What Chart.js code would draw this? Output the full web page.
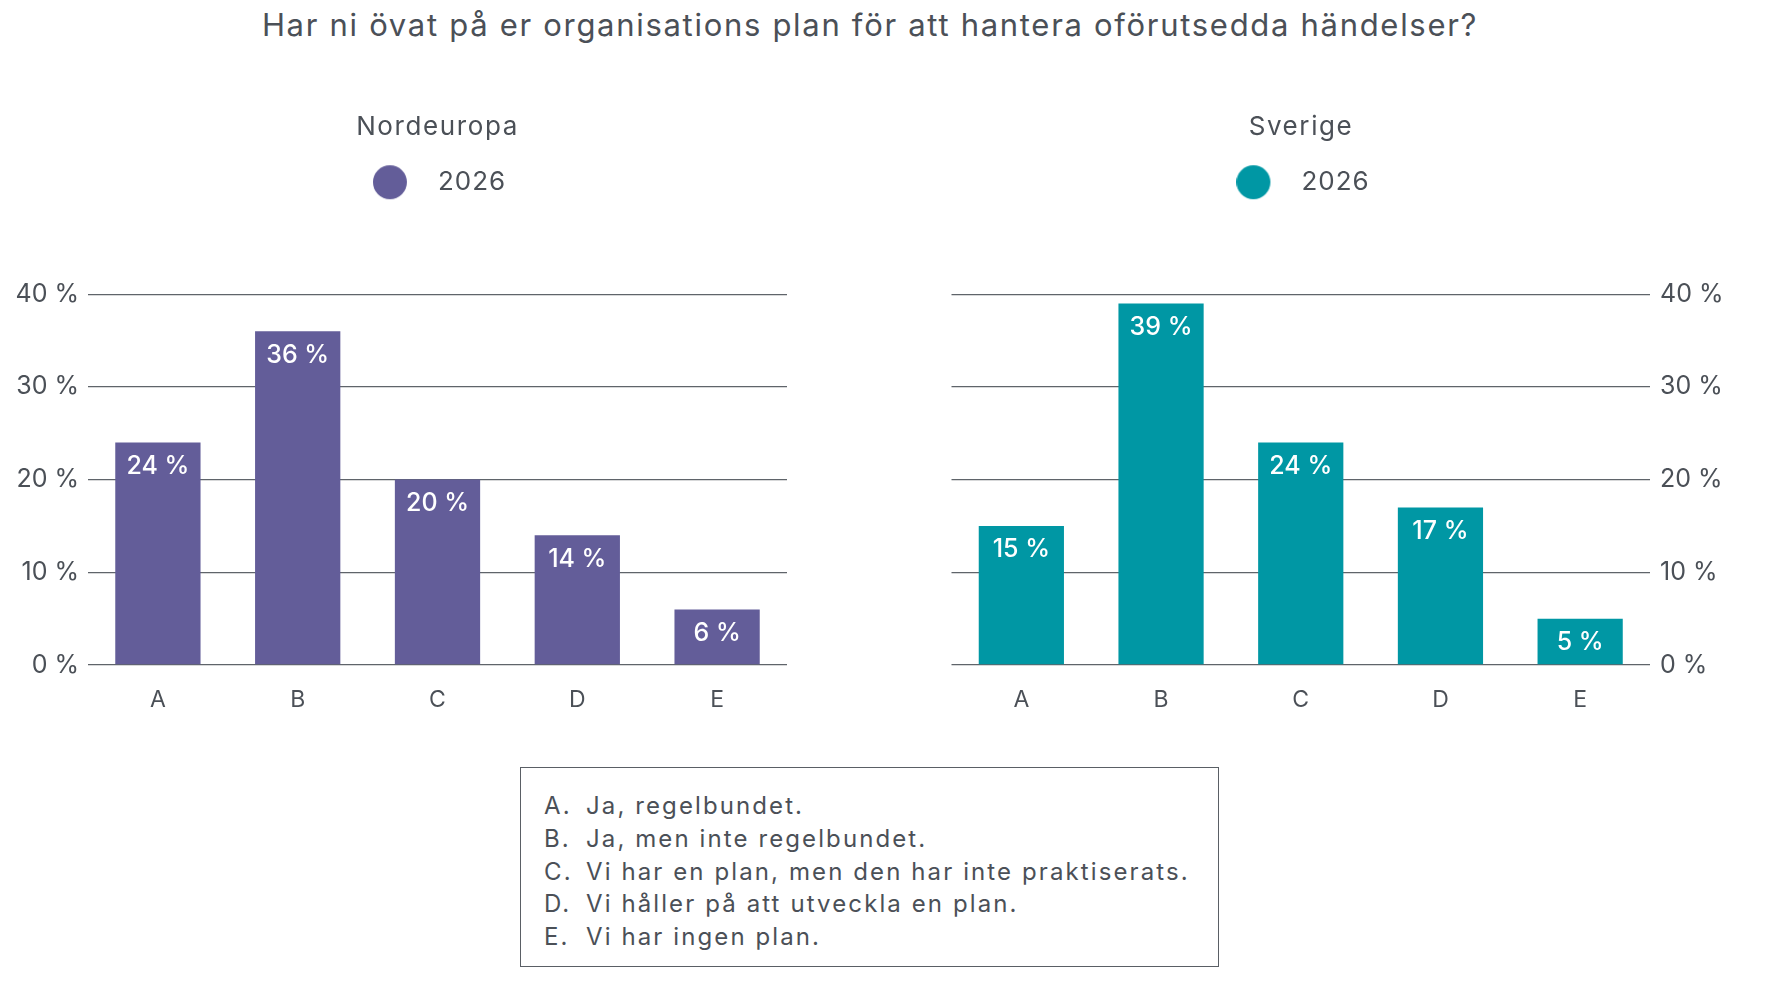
<!DOCTYPE html>
<html>
<head>
<meta charset="utf-8">
<script src="https://cdn.jsdelivr.net/npm/chart.js@4.4.1/dist/chart.umd.min.js"></script>
<style>
  body { margin: 0; background: #fff; font-family: Inter, "Noto Sans", sans-serif; color: #4b5057; }
  #wrap { position: relative; width: 1772px; height: 997px; overflow: hidden; }
  #title { position: absolute; left: 0; top: 5px; width: 1740px; text-align: center; font-size: 31px; line-height: 40px; letter-spacing: 1.7px; }
  .chart { position: absolute; top: 0; height: 740px; }
  #left { left: 0; width: 875px; }
  #right { left: 830px; width: 942px; }
  #answers { position: absolute; left: 520px; top: 767px; width: 697px; height: 176px; border: 1.5px solid #5a5f65;
    box-sizing: content-box; padding-top: 22px; font-size: 24px; line-height: 32.8px; letter-spacing: 2.1px; }
  #answers div { padding-left: 23px; white-space: nowrap; }
  #answers span { display: inline-block; width: 42px; }
</style>
</head>
<body>
<div id="wrap">
  <div id="title">Har ni övat på er organisations plan för att hantera oförutsedda händelser?</div>
  <div class="chart" id="left"><canvas id="c1"></canvas></div>
  <div class="chart" id="right"><canvas id="c2"></canvas></div>
  <div id="answers"></div>
</div>
<script>
var categories = ["A", "B", "C", "D", "E"];
var nordeuropa = [24, 36, 20, 14, 6];
var sverige = [15, 39, 24, 17, 5];
var yTicks = [0, 10, 20, 30, 40];
var seriesLabel = "2026";
var answerLetters = ["A.", "B.", "C.", "D.", "E."];
var answerTexts = [
	"Ja, regelbundet.",
	"Ja, men inte regelbundet.",
	"Vi har en plan, men den har inte praktiserats.",
	"Vi håller på att utveckla en plan.",
	"Vi har ingen plan."
];

var textColor = "#4b5057";
var gridColor = "#5f646a";

var box = document.getElementById("answers");
for (var i = 0; i < answerTexts.length; i++) {
	var row = document.createElement("div");
	row.innerHTML = "<span>" + answerLetters[i] + "</span>" + answerTexts[i];
	box.appendChild(row);
}

// legend dot drawn on a small canvas so the gap to the text can be wide
function makeDot(color) {
	var c = document.createElement("canvas");
	c.width = 52;
	c.height = 36;
	var g = c.getContext("2d");
	g.fillStyle = color;
	g.beginPath();
	g.arc(17, 18, 17, 0, Math.PI * 2);
	g.fill();
	return c;
}

var barLabels = {
	id: "barLabels",
	afterDatasetsDraw: function(chart) {
		var ctx = chart.ctx;
		var meta = chart.getDatasetMeta(0);
		var values = chart.data.datasets[0].data;
		ctx.save();
		ctx.fillStyle = "#ffffff";
		ctx.font = "500 25px Inter";
		ctx.textAlign = "center";
		ctx.textBaseline = "middle";
		meta.data.forEach(function(bar, i) {
			ctx.fillText(values[i] + " %", bar.x, bar.y + 24);
		});
		ctx.restore();
	}
};

function spaced(block, px) {
	var draw = block.draw;
	block.draw = function() {
		var c = this.ctx;
		c.save();
		c.letterSpacing = px;
		draw.apply(this, arguments);
		c.restore();
	};
}

var headerTweaks = {
	id: "headerTweaks",
	beforeInit: function(chart) {
		var fit = chart.legend.fit;
		chart.legend.fit = function() {
			fit.bind(chart.legend)();
			this.height = 135;
		};
		spaced(chart.legend, "1px");
		spaced(chart.titleBlock, "1.6px");
	}
};

function makeChart(id, name, values, color, side) {
	var other = side == "left" ? "right" : "left";
	var ctx = document.getElementById(id);
	return new Chart(ctx, {
		type: "bar",
		data: {
			labels: categories,
			datasets: [{
				label: seriesLabel,
				data: values,
				backgroundColor: color,
				categoryPercentage: 1,
				barPercentage: 0.61
			}]
		},
		options: {
			responsive: true,
			maintainAspectRatio: false,
			animation: false,
			scales: {
				x: {
					grid: { display: false, drawTicks: false },
					border: { display: false },
					ticks: { color: textColor, font: { family: "Inter", size: 23 }, padding: 21 },
					afterFit: function(scale) { scale.height = 75; }
				},
				y: {
					position: side,
					min: 0,
					max: 40,
					afterBuildTicks: function(scale) {
						scale.ticks = yTicks.map(function(v) { return { value: v }; });
					},
					grid: { color: gridColor, lineWidth: 1.3, drawTicks: false },
					border: { display: false },
					ticks: {
						color: textColor,
						font: { family: "Inter", size: 25 },
						padding: side == "left" ? 9 : 10,
						callback: function(v) { return v + " %"; }
					},
					afterFit: function(scale) { scale.width = side == "left" ? 88 : 122; }
				},
				// empty axis on the other side so titles centre over the plot
				pad: {
					type: "linear",
					position: other,
					grid: { display: false, drawTicks: false },
					border: { display: false },
					ticks: { display: false },
					afterFit: function(scale) { scale.width = side == "left" ? 88 : 121.5; }
				}
			},
			plugins: {
				title: {
					display: true,
					text: name,
					color: textColor,
					font: { family: "Inter", size: 26, weight: "normal" },
					padding: { top: 112, bottom: 16 }
				},
				legend: {
					display: true,
					labels: {
						color: textColor,
						font: { family: "Inter", size: 26 },
						usePointStyle: true,
						pointStyle: makeDot(color),
						pointStyleWidth: 52,
						padding: 10
					}
				},
				tooltip: { enabled: false }
			}
		},
		plugins: [barLabels, headerTweaks]
	});
}

makeChart("c1", "Nordeuropa", nordeuropa, "#635d99", "left");
makeChart("c2", "Sverige", sverige, "#0097a4", "right");
</script>
</body>
</html>
